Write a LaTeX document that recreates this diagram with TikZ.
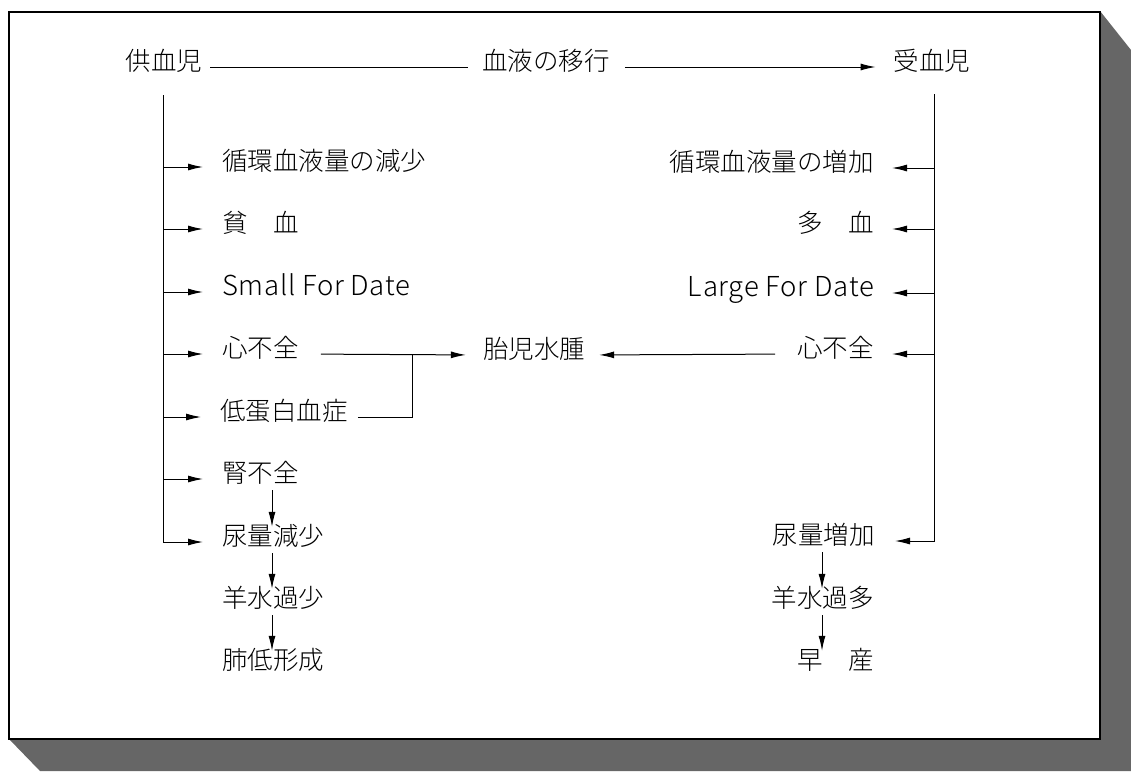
\documentclass[tikz,border=0pt]{standalone}
\usepackage{fontspec}
\IfFontExistsTF{Noto Sans CJK JP Light}
  {\setmainfont{Noto Sans CJK JP Light}}
  {\setmainfont{Noto Sans CJK JP}}
\usetikzlibrary{arrows.meta}
\begin{document}
\begin{tikzpicture}[x=1pt,y=-1pt,
  lbl/.style={font=\fontsize{25.5}{30}\selectfont, inner xsep=0pt, inner ysep=0pt,
    text height=0.88em, text depth=0.12em},
  latin/.style={lbl, font=\fontsize{27.5}{30}\selectfont\addfontfeature{LetterSpace=2.5}},
  ln/.style={line width=1pt},
  arr/.style={line width=1pt, -{Latex[length=15pt,width=7pt]}},
  dn/.style={arr, shorten <=6pt, shorten >=10pt}]
\useasboundingbox (0,0) rectangle (1131,771);
% shadow and frame
\fill[black!60] (1100,11) -- (1131,50) -- (1131,771) -- (40,771) -- (9,739) -- cycle;
\draw[line width=1.6pt, fill=white] (9,12) rectangle (1100,739);
% top row
\node[lbl] (donor) at (164,67) {供血児};
\node[lbl] (trans) at (546,67) {血液の移行};
\node[lbl] (recip) at (932,67) {受血児};
\draw[ln, shorten <=8pt, shorten >=14pt] (donor.east) -- (trans.west);
\draw[arr, shorten <=15pt, shorten >=18pt] (trans.east) -- (recip.west);
% left column
\coordinate (lvtop) at (163,95);
\coordinate (lc) at (272,0);
\node[lbl, anchor=west] (L1) at (222,167) {循環血液量の減少};
\node[lbl, anchor=west] (L2) at (222,229) {貧　血};
\node[latin, anchor=west] (L3) at (222,292) {Small For Date};
\node[lbl, anchor=west] (L4) at (222,354) {心不全};
\node[lbl, anchor=west] (L5) at (220,417) {低蛋白血症};
\node[lbl, anchor=west] (L6) at (222,479) {腎不全};
\node[lbl, anchor=west] (L7) at (222,542) {尿量減少};
\node[lbl, anchor=west] (L8) at (222,604) {羊水過少};
\node[lbl, anchor=west] (L9) at (222,666) {肺低形成};
\draw[arr] (lvtop) |- ([xshift=-19pt]L7.west);
\foreach \n in {L1,L2,L3,L4,L5,L6}
  \draw[arr] (lvtop |- \n.west) -- ([xshift=-19pt]\n.west);
\draw[dn] (lc |- L6.south) -- (lc |- L7.north);
\draw[dn] (lc |- L7.south) -- (lc |- L8.north);
\draw[dn] (lc |- L8.south) -- (lc |- L9.north);
% right column
\coordinate (rvtop) at (934,94);
\coordinate (rc) at (822,0);
\node[lbl, anchor=east] (R1) at (874,168) {循環血液量の増加};
\node[lbl, anchor=east] (R2) at (874,229) {多　血};
\node[latin, anchor=east] (R3) at (874,293) {Large For Date};
\node[lbl, anchor=east] (R4) at (874,354) {心不全};
\node[lbl, anchor=east] (R5) at (875,541) {尿量増加};
\node[lbl, anchor=east] (R6) at (874,604) {羊水過多};
\node[lbl, anchor=east] (R7) at (874,666) {早　産};
\draw[arr] (rvtop) |- ([xshift=20pt]R5.east);
\foreach \n in {R1,R2,R3,R4}
  \draw[arr] (rvtop |- \n.east) -- ([xshift=18pt]\n.east);
\draw[dn] (rc |- R5.south) -- (rc |- R6.north);
\draw[dn] (rc |- R6.south) -- (rc |- R7.north);
% middle
\node[lbl] (M) at (534,355) {胎児水腫};
\coordinate (jn) at (412,0);
\draw[arr, shorten <=22pt, shorten >=17pt] (L4.east) -- (M.west);
\draw[ln] ([xshift=10pt]L5.east) -| (jn |- L4.east);
\draw[arr, shorten <=22pt, shorten >=14pt] (R4.west) -- (M.east);
\end{tikzpicture}
\end{document}
